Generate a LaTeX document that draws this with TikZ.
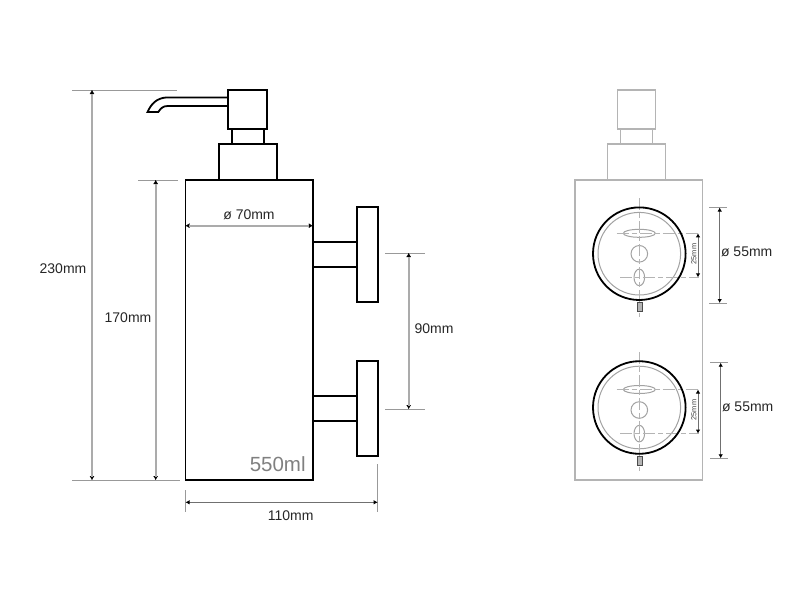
\documentclass[tikz,border=0pt]{standalone}
\usepackage{fontspec}
\setmainfont{Liberation Sans}
\usetikzlibrary{arrows.meta}

\definecolor{lightdim}{HTML}{ABABAB}
\definecolor{thingray}{HTML}{707070}
\definecolor{viewgray}{HTML}{B4B4B4}

\tikzset{
	outline/.style={draw=black,line width=1.8pt},
	ghost/.style={draw=viewgray,line width=1.1pt},
	inner/.style={draw=viewgray!90!black,line width=1pt},
	axis/.style={draw=viewgray,line width=.9pt,dash pattern=on 12pt off 3pt on 5pt off 3pt},
	extline/.style={draw=gray!80,line width=.9pt},
	dimtips/.style={{Latex[black,length=4pt,width=4.5pt]}-{Latex[black,length=4pt,width=4.5pt]}},
	tipline/.style={draw=lightdim,line width=.1pt,dimtips},
	dimline/.style={draw=lightdim,line width=1.7pt,shorten >=3.5pt,shorten <=3.5pt},
	thindim/.style={draw=thingray,line width=1pt,dimtips},
	dimlabel/.style={font=\fontsize{14}{16}\selectfont,text=black!85,inner sep=0pt},
	tinylabel/.style={font=\fontsize{7.4}{8}\selectfont,text=black!75,inner sep=0pt,rotate=90},
}

\begin{document}
\begin{tikzpicture}[x=1pt,y=-1pt]
	\useasboundingbox (0,0) rectangle (800,600);

	% side view
	\draw[outline] (185.5,180) rectangle (312.8,480);
	\draw[outline] (218.7,144) rectangle (276.7,180);
	\draw[outline] (231.7,129.3) rectangle (263.7,144);
	\draw[outline] (228.3,90) rectangle (267,129.3);
	\draw[outline,line join=miter] (228.3,97.4) -- (168,97.4) .. controls (157,97.4) and (151,104) .. (147.6,112) -- (158.3,112) .. controls (161,108) and (163,106) .. (168,106) -- (228.3,106);

	\foreach \y/\p in {242.3/207.3,396/361.3} {
		\pgfmathsetmacro{\b}{\y + 24.6};
		\pgfmathsetmacro{\q}{\p + 94.7};
		\draw[outline] (312.8,\y) -- (356.7,\y);
		\draw[outline] (312.8,\b) -- (356.7,\b);
		\draw[outline] (356.7,\p) rectangle (377.7,\q);
		}

	% front view
	\draw[ghost] (575,180) rectangle (702.3,480);
	\draw[ghost] (607.3,144) rectangle (665.7,180);
	\draw[ghost] (620.7,129) rectangle (652.7,144);
	\draw[ghost] (617.3,90) rectangle (655.7,129);

	\foreach \c/\s in {253.7/253.8,407.5/410} {
		\pgfmathsetmacro{\h}{\s - 20.5};
		\pgfmathsetmacro{\v}{\s + 23.6};
		\pgfmathsetmacro{\t}{\c - 55.7};
		\pgfmathsetmacro{\e}{\c + 63};
		\pgfmathsetmacro{\r}{\c + 49};
		\pgfmathsetmacro{\u}{\c + 58};
		\draw[inner] (639.3,\c) circle (41.3);
		\draw[inner] (639.3,\s) circle (8.3);
		\draw[inner] (639.3,\h) ellipse [x radius=16,y radius=4];
		\draw[inner] (639.3,\v) ellipse [x radius=5.3,y radius=8.3];
		\draw[axis] (639.3,\t) -- (639.3,\e);
		\draw[axis] (616.7,\h) -- (699,\h);
		\draw[axis] (620,\v) -- (699,\v);
		\draw[line width=1.8pt] (639.3,\c) circle (46.3);
		\draw[draw=black!70,fill=viewgray,line width=.6pt] (636.8,\r) rectangle (642,\u);
		}

	% dimension ends
	\coordinate (a1) at (92,90);
	\coordinate (a2) at (92,480);
	\coordinate (b1) at (155.7,180);
	\coordinate (b2) at (155.7,480);
	\coordinate (c1) at (185.5,225.7);
	\coordinate (c2) at (312.8,225.7);
	\coordinate (d1) at (185.5,502.3);
	\coordinate (d2) at (377.7,502.3);
	\coordinate (e1) at (408.7,253);
	\coordinate (e2) at (408.7,409);
	\coordinate (f1) at (698,233.3);
	\coordinate (f2) at (698,277.4);
	\coordinate (g1) at (719.7,207.5);
	\coordinate (g2) at (719.7,303);
	\coordinate (h1) at (698,389.5);
	\coordinate (h2) at (698,433.6);
	\coordinate (i1) at (720.7,362.7);
	\coordinate (i2) at (720.7,458.3);

	\foreach \x/\l/\r in {72/177/90,138/178/180,72/180/480,385/425/253,385/425/409,709/727/207.5,709/727/303,710/727.5/362.7,710/727.5/458.3} {
		\draw[extline] (\x,\r) -- (\l,\r);
		}
	\draw[extline] (185.5,490) -- (185.5,511.7);
	\draw[extline] (377.7,464) -- (377.7,511.7);

	\foreach \p in {a,b,c,e} {
		\draw[tipline] (\p1) -- (\p2);
		\draw[dimline] (\p1) -- (\p2);
		}
	\foreach \p in {d,f,g,h,i} {
		\draw[thindim] (\p1) -- (\p2);
		}

	\node[dimlabel] (tall) at (63,269) {230mm};
	\node[dimlabel] (body) at (128,318) {170mm};
	\node[dimlabel] (bore) at (249,215) {ø 70mm};
	\node[dimlabel] (deep) at (290.7,516) {110mm};
	\node[dimlabel] (pitch) at (434,329) {90mm};
	\node[dimlabel] (padA) at (746.7,251.7) {ø 55mm};
	\node[dimlabel] (padB) at (747.7,406.7) {ø 55mm};
	\node[tinylabel] (holeA) at (693.7,254) {25mm};
	\node[tinylabel] (holeB) at (693.7,410) {25mm};
	\node[font=\fontsize{20.5}{24}\selectfont,text=black!50,inner sep=0pt] (volume) at (277.7,464) {550ml};
\end{tikzpicture}
\end{document}
